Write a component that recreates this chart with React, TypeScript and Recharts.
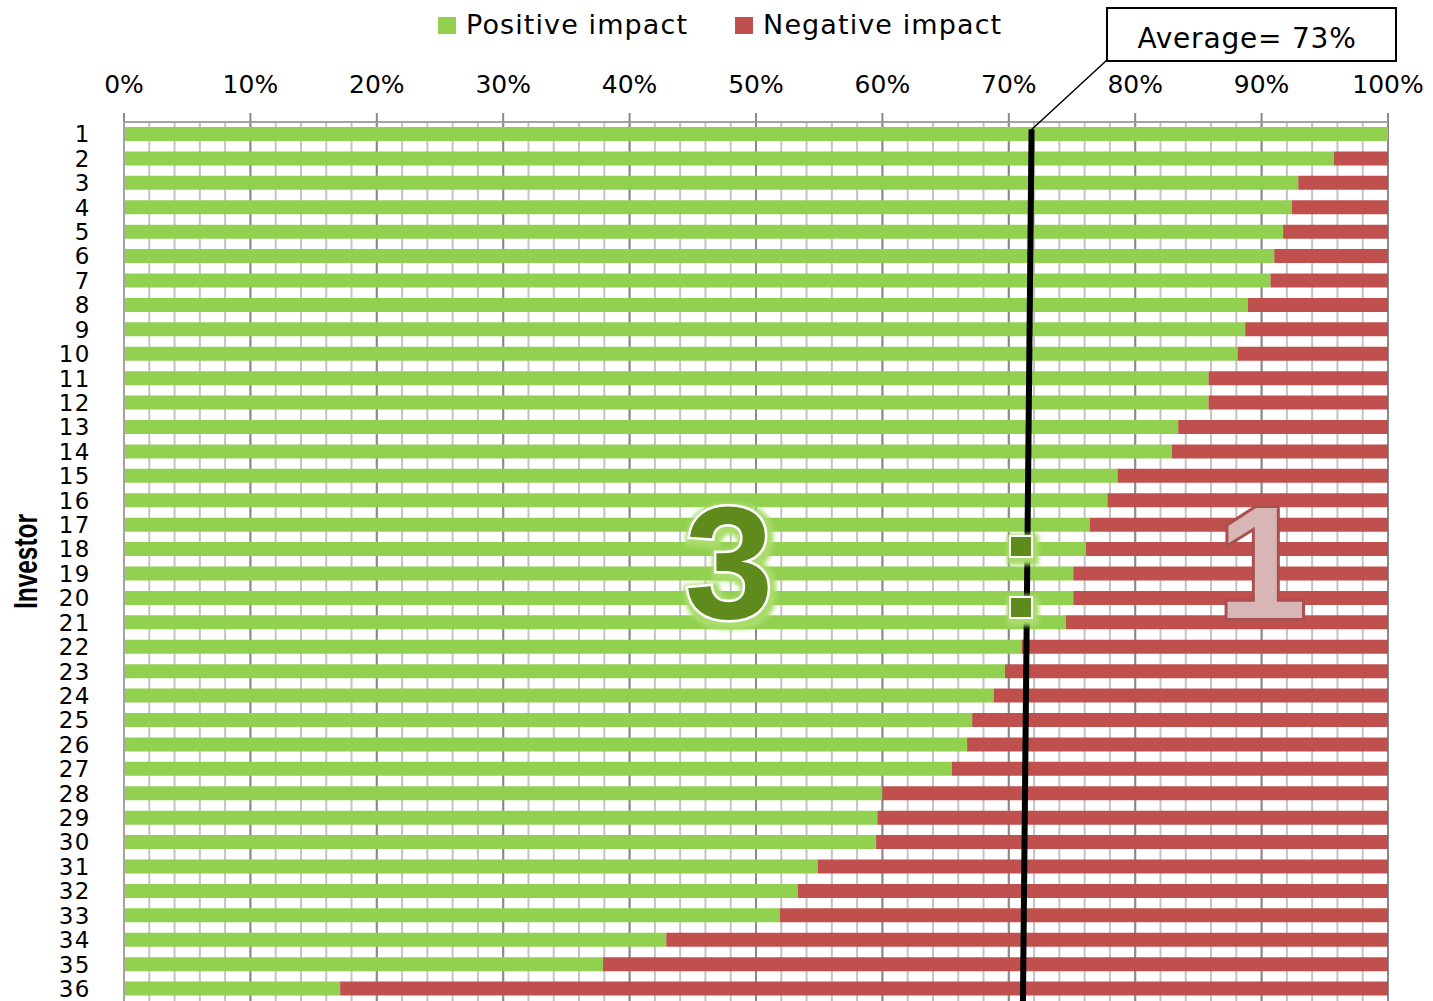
import {
  Bar,
  BarChart,
  CartesianGrid,
  Legend,
  ReferenceLine,
  XAxis,
  YAxis,
} from "recharts";

// investors, ranked by share of positive impact
const investors = [
  "1", "2", "3", "4", "5", "6", "7", "8", "9", "10", "11", "12",
  "13", "14", "15", "16", "17", "18", "19", "20", "21", "22", "23", "24",
  "25", "26", "27", "28", "29", "30", "31", "32", "33", "34", "35", "36",
];

// % of positive impact per investor (the rest is negative)
const positiveShare = [
  100, 95.7, 92.9, 92.4, 91.7, 91.0, 90.7, 88.9, 88.7, 88.1, 85.8, 85.8,
  83.4, 82.9, 78.6, 77.8, 76.4, 76.1, 75.1, 75.1, 74.5, 71.0, 69.7, 68.8,
  67.1, 66.7, 65.5, 60.0, 59.6, 59.5, 54.9, 53.3, 51.9, 42.9, 37.9, 17.1,
];

const majorTicks = [0, 10, 20, 30, 40, 50, 60, 70, 80, 90, 100];
const minorTicks = [
  0, 2, 4, 6, 8, 10, 12, 14, 16, 18, 20, 22, 24, 26, 28, 30, 32, 34, 36, 38,
  40, 42, 44, 46, 48, 50, 52, 54, 56, 58, 60, 62, 64, 66, 68, 70, 72, 74, 76,
  78, 80, 82, 84, 86, 88, 90, 92, 94, 96, 98, 100,
];

// hand-drawn average marker; y counts rows down from the top axis
const averageLine = [
  { x: 71.8, y: 0.3 },
  { x: 71.1, y: 36 },
];
const averageLabel = "Average= 73%";

const GREEN = "#92d050";
const RED = "#c0504d";
const FONT = "'DejaVu Sans', Verdana, sans-serif";
const BOLD = "'Liberation Sans', Arial, sans-serif";

const data = investors.map((investor, i) => ({
  investor,
  positive: positiveShare[i],
  negative: Math.round((100 - positiveShare[i]) * 10) / 10,
}));

function LegendContent() {
  const items = [
    { label: "Positive impact", color: GREEN },
    { label: "Negative impact", color: RED },
  ];
  return (
    <div style={{ display: "flex", gap: 47, fontFamily: FONT, fontSize: 27, letterSpacing: 1.1 }}>
      {items.map((item) => (
        <div key={item.label} style={{ display: "flex", alignItems: "center", gap: 10 }}>
          <span style={{ width: 18, height: 17, background: item.color, display: "inline-block" }} />
          <span style={{ lineHeight: "30px" }}>{item.label}</span>
        </div>
      ))}
    </div>
  );
}

function InvestorLabel({ viewBox }: any) {
  const cy = viewBox.y + viewBox.height / 2;
  return (
    <text
      transform={`translate(${viewBox.x + 37}, ${cy}) rotate(-90) scale(0.74, 1)`}
      textAnchor="middle"
      fontFamily={BOLD}
      fontWeight="bold"
      fontSize={33}
      fill="#000"
    >
      Investor
    </text>
  );
}

// vertical grid every 2%, placed through the x scale
function minorGrid({ xAxis, offset }: any) {
  if (xAxis && typeof xAxis.scale === "function") {
    return minorTicks.map((t) => xAxis.scale(t));
  }
  return minorTicks.map((t) => offset.left + (offset.width * t) / 100);
}

function Overlay() {
  return (
    <svg
      width={1433}
      height={1001}
      style={{ position: "absolute", left: 0, top: 0, pointerEvents: "none" }}
    >
      <defs>
        <filter id="greenGlow" x="-20%" y="-20%" width="140%" height="140%">
          <feMorphology in="SourceAlpha" operator="dilate" radius="4" result="grow" />
          <feGaussianBlur in="grow" stdDeviation="2" result="soft" />
          <feFlood floodColor="#a9dc6a" result="tint" />
          <feComposite in="tint" in2="soft" operator="in" result="glow" />
          <feOffset in="glow" dx="2" dy="3" result="shifted" />
          <feMerge>
            <feMergeNode in="shifted" />
            <feMergeNode in="SourceGraphic" />
          </feMerge>
        </filter>
      </defs>

      {/* callout for the average */}
      <line x1={1107} y1={60} x2={1030} y2={131} stroke="#000" strokeWidth={1.5} />
      <rect x={1107} y={8} width={289} height={53} fill="#fff" stroke="#000" strokeWidth={2} />
      <text x={1247} y={48} textAnchor="middle" fontFamily={FONT} fontSize={28} letterSpacing={0.8}>
        {averageLabel}
      </text>

      {/* 3 : 1 ratio */}
      <g filter="url(#greenGlow)">
        <text
          x={729}
          y={618}
          textAnchor="middle"
          fontFamily={BOLD}
          fontWeight="bold"
          fontSize={160}
          fill="#5f8b1f"
          stroke="#fff"
          strokeWidth={5}
          paintOrder="stroke"
        >
          3
        </text>
        <rect x={1010} y={536} width={22} height={21} fill="#5f8b1f" stroke="#fff" strokeWidth={2} />
        <rect x={1010} y={597} width={22} height={21} fill="#5f8b1f" stroke="#fff" strokeWidth={2} />
      </g>
      <text
        x={1262}
        y={618}
        textAnchor="middle"
        fontFamily={BOLD}
        fontWeight="bold"
        fontSize={160}
        fill="#d9b6b6"
        stroke="#a94f4f"
        strokeWidth={6}
        strokeLinejoin="round"
        paintOrder="stroke"
      >
        1
      </text>
    </svg>
  );
}

export default function App() {
  return (
    <div style={{ position: "absolute", left: 0, top: 0, width: 1433, height: 1001, background: "#fff" }}>
      <BarChart
        width={1433}
        height={1001}
        data={data}
        layout="vertical"
        margin={{ top: 82, right: 45, bottom: 0, left: 0 }}
        barSize={14}
      >
        <YAxis yAxisId="track" type="number" domain={[0, 36]} allowDataOverflow hide />
        <CartesianGrid
          horizontal={false}
          verticalCoordinatesGenerator={minorGrid}
          stroke="#c3c3c3"
          strokeWidth={2}
        />
        <CartesianGrid horizontal={false} stroke="#8a8a8a" strokeWidth={2} />
        <XAxis
          type="number"
          orientation="top"
          domain={[0, 100]}
          ticks={majorTicks}
          tickFormatter={(v) => `${v}%`}
          height={40}
          tickSize={9}
          tickMargin={20}
          tick={{ fill: "#000", fontSize: 25, fontFamily: FONT }}
          tickLine={{ stroke: "#8a8a8a", strokeWidth: 2 }}
          axisLine={{ stroke: "#a3a3a3", strokeWidth: 2 }}
          interval={0}
        />
        <YAxis
          type="category"
          dataKey="investor"
          width={124}
          interval={0}
          tickLine={false}
          tickSize={0}
          tickMargin={33}
          tick={{ fill: "#000", fontSize: 23, fontFamily: FONT, letterSpacing: 1.5 }}
          axisLine={{ stroke: "#a3a3a3", strokeWidth: 2 }}
          label={{ content: InvestorLabel }}
        />
        <Legend
          layout="horizontal"
          verticalAlign="middle"
          align="center"
          wrapperStyle={{ top: 10, left: 438, width: "auto" }}
          content={LegendContent}
        />
        <Bar dataKey="positive" name="Positive impact" stackId="share" fill={GREEN} isAnimationActive={false} />
        <Bar dataKey="negative" name="Negative impact" stackId="share" fill={RED} isAnimationActive={false} />
        <ReferenceLine
          yAxisId="track"
          segment={averageLine}
          stroke="#000"
          strokeWidth={6}
          ifOverflow="visible"
        />
      </BarChart>
      <Overlay />
    </div>
  );
}
